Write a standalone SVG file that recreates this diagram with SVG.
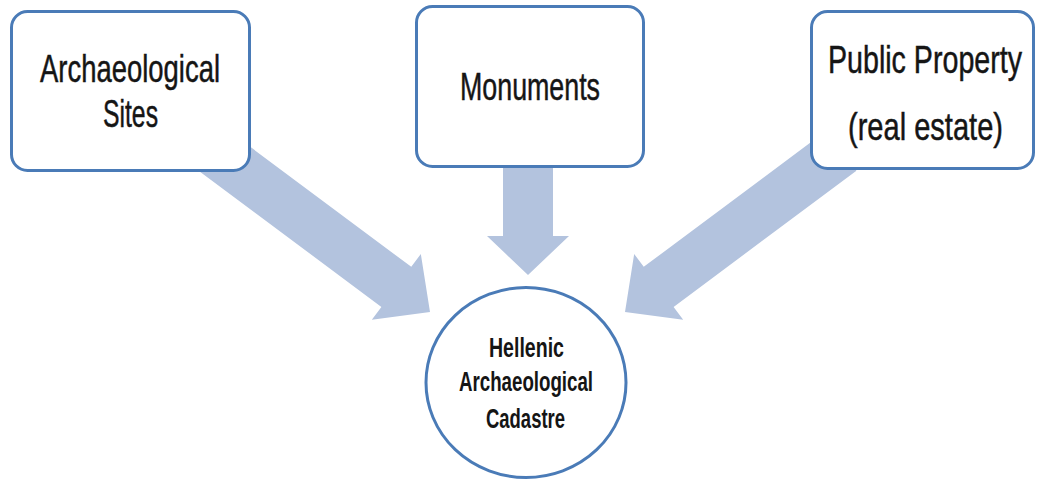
<svg xmlns="http://www.w3.org/2000/svg" width="1041" height="482" viewBox="0 0 1041 482">
<style>
.box{fill:#ffffff;stroke:#4a7bb7;stroke-width:3}
.arrow{fill:#b3c3de;stroke:none}
.t{font-family:"Liberation Sans",Arial,sans-serif;font-size:39px;fill:#151515;stroke:#151515;stroke-width:0.5;text-anchor:middle}
.c{font-family:"Liberation Sans",Arial,sans-serif;font-size:28px;font-weight:bold;fill:#151515;text-anchor:middle}
</style>
<defs>
<polygon id="arr" points="-270,-25 -42,-25 -42,-41 0,0 -42,41 -42,25 -270,25"/>
</defs>
<rect width="1041" height="482" fill="#ffffff"/>
<g id="connectors">
<use href="#arr" class="arrow" transform="translate(430,312) rotate(36.7)"/>
<use href="#arr" class="arrow" transform="translate(625,312) rotate(143.3)"/>
<polygon class="arrow" points="503,150 553,150 553,236 569,236 528,275 487,236 503,236"/>
</g>
<g id="node-sites">
<rect class="box" x="11.5" y="11.5" width="238" height="159" rx="16"/>
<text class="t" x="130" y="82" textLength="180" lengthAdjust="spacingAndGlyphs">Archaeological</text>
<text class="t" x="130.5" y="127" textLength="55" lengthAdjust="spacingAndGlyphs">Sites</text>
</g>
<g id="node-monuments">
<rect class="box" x="416.5" y="6.5" width="227" height="160" rx="16"/>
<text class="t" x="530" y="100" textLength="140" lengthAdjust="spacingAndGlyphs">Monuments</text>
</g>
<g id="node-property">
<rect class="box" x="811.5" y="11.5" width="222" height="157" rx="16"/>
<text class="t" x="925" y="73" textLength="194" lengthAdjust="spacingAndGlyphs">Public Property</text>
<text class="t" x="925.5" y="140" textLength="155" lengthAdjust="spacingAndGlyphs">(real estate)</text>
</g>
<g id="node-cadastre">
<ellipse class="box" cx="526" cy="382.5" rx="100" ry="95"/>
<text class="c" x="526.5" y="357" textLength="75" lengthAdjust="spacingAndGlyphs">Hellenic</text>
<text class="c" x="526" y="391" textLength="134" lengthAdjust="spacingAndGlyphs">Archaeological</text>
<text class="c" x="525.5" y="428" textLength="79" lengthAdjust="spacingAndGlyphs">Cadastre</text>
</g>
</svg>
